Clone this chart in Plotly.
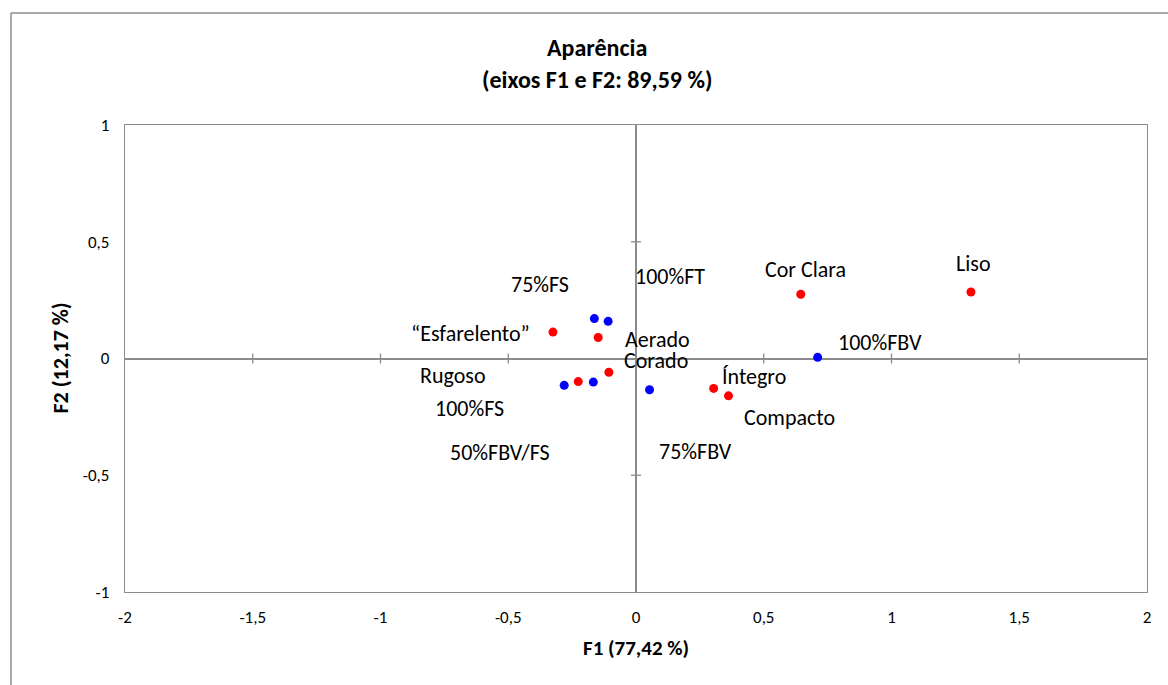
import plotly.graph_objects as go

# ---- data ----
attr_names = ["Liso", "Cor Clara", "“Esfarelento”", "Aerado", "Corado", "Rugoso", "Íntegro", "Compacto"]
attr_f1 = [1.311, 0.645, -0.325, -0.148, -0.106, -0.226, 0.304, 0.362]
attr_f2 = [0.285, 0.275, 0.113, 0.090, -0.059, -0.099, -0.128, -0.160]

samp_names = ["100%FBV", "75%FS", "100%FT", "100%FS", "50%FBV/FS", "75%FBV"]
samp_f1 = [0.711, -0.163, -0.109, -0.281, -0.167, 0.053]
samp_f2 = [0.005, 0.171, 0.159, -0.115, -0.101, -0.134]

x_ticks = [-2, -1.5, -1, -0.5, 0, 0.5, 1, 1.5, 2]
x_ticktext = ["-2", "-1,5", "-1", "-0,5", "0", "0,5", "1", "1,5", "2"]
y_ticks = [-1, -0.5, 0, 0.5, 1]
y_ticktext = ["-1", "-0,5", "0", "0,5", "1"]

title_l1 = "Aparência"
title_l2 = "(eixos F1 e F2: 89,59 %)"
x_title = "F1 (77,42 %)"
y_title = "F2 (12,17 %)"

# label offsets in pixels (Excel label placement)
attr_offsets = [(3, 28), (5, 25), (-82, -1), (59, -2), (47, 12), (-125, 6), (40, 12), (61, -22)]
samp_offsets = [(62, 15), (-54, 34), (62, 45), (-95, -23), (-93, -70), (46, -62)]

FONT = "Carlito, Calibri, Lato, sans-serif"
GRAY = "#8c8c8c"
W, H = 1168, 685
ML, MR, MT, MB = 125, 21, 125, 93
pw = W - ML - MR
ph = H - MT - MB
title_x = (597 - ML) / pw

fig = go.Figure()
fig.add_trace(go.Scatter(x=attr_f1, y=attr_f2, mode="markers",
                         marker=dict(color="#ff0000", size=9), hoverinfo="skip", showlegend=False))
fig.add_trace(go.Scatter(x=samp_f1, y=samp_f2, mode="markers",
                         marker=dict(color="#0000ff", size=9), hoverinfo="skip", showlegend=False))

annotations = []
for names, xs, ys, offs in [(attr_names, attr_f1, attr_f2, attr_offsets),
                            (samp_names, samp_f1, samp_f2, samp_offsets)]:
    for n, x, y, (dx, dy) in zip(names, xs, ys, offs):
        annotations.append(dict(x=x, y=y, xref="x", yref="y", text=n, showarrow=False,
                                xshift=dx, yshift=dy, xanchor="center", yanchor="middle",
                                font=dict(family=FONT, size=22, color="#000")))

annotations += [
    dict(x=title_x, y=1, xref="paper", yref="paper", text="<b>%s</b>" % title_l1, showarrow=False,
         yshift=78, xanchor="center", yanchor="middle", font=dict(family=FONT, size=24, color="#000")),
    dict(x=title_x, y=1, xref="paper", yref="paper", text="<b>%s</b>" % title_l2, showarrow=False,
         yshift=46, xanchor="center", yanchor="middle", font=dict(family=FONT, size=24, color="#000")),
    dict(x=0.5, y=0, xref="paper", yref="paper", text="<b>%s</b>" % x_title, showarrow=False,
         yshift=-56, xanchor="center", yanchor="middle", font=dict(family=FONT, size=21, color="#000")),
    dict(x=0, y=0.5, xref="paper", yref="paper", text="<b>%s</b>" % y_title, showarrow=False,
         xshift=-65, xanchor="center", yanchor="middle", textangle=-90,
         font=dict(family=FONT, size=22, color="#000")),
]

shapes = []
# tick marks on the central axes
for v in x_ticks[1:-1]:
    if v == 0:
        continue
    shapes.append(dict(type="line", xref="x", yref="y", x0=v, x1=v, ysizemode="pixel",
                       yanchor=0, y0=-5, y1=5, line=dict(color=GRAY, width=1.3)))
for v in y_ticks[1:-1]:
    if v == 0:
        continue
    shapes.append(dict(type="line", xref="x", yref="y", y0=v, y1=v, xsizemode="pixel",
                       xanchor=0, x0=-5, x1=5, line=dict(color=GRAY, width=1.3)))

# outer chart border (top and left edges visible)
bx0 = (11 - ML) / pw
by0 = 1 + (MT - 13) / ph
shapes.append(dict(type="line", xref="paper", yref="paper", x0=bx0, x1=(W + 5 - ML) / pw,
                   y0=by0, y1=by0, line=dict(color=GRAY, width=1.5)))
shapes.append(dict(type="line", xref="paper", yref="paper", x0=bx0, x1=bx0,
                   y0=by0, y1=-(MB + 5) / ph, line=dict(color=GRAY, width=1.5)))

fig.update_layout(
    width=W, height=H,
    margin=dict(l=ML, r=MR, t=MT, b=MB),
    paper_bgcolor="white", plot_bgcolor="white",
    annotations=annotations, shapes=shapes,
    xaxis=dict(range=[-2, 2], tickvals=x_ticks, ticktext=x_ticktext, showgrid=False,
               zeroline=True, zerolinecolor=GRAY, zerolinewidth=1.5,
               showline=True, mirror=True, linecolor=GRAY, linewidth=1.3,
               ticks="outside", ticklen=9, tickcolor="rgba(0,0,0,0)",
               tickfont=dict(family=FONT, size=17, color="#000")),
    yaxis=dict(range=[-1, 1], tickvals=y_ticks, ticktext=y_ticktext, showgrid=False,
               zeroline=True, zerolinecolor=GRAY, zerolinewidth=1.5,
               showline=True, mirror=True, linecolor=GRAY, linewidth=1.3,
               ticks="outside", ticklen=11, tickcolor="rgba(0,0,0,0)",
               tickfont=dict(family=FONT, size=17, color="#000")),
)

fig.write_html("out.html")
